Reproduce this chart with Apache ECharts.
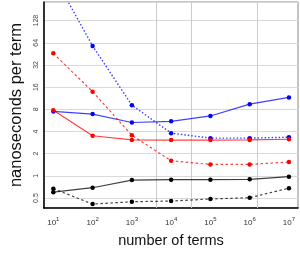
<!DOCTYPE html>
<html><head><meta charset="utf-8">
<script src="https://cdn.jsdelivr.net/npm/echarts@6/dist/echarts.min.js"></script>
<style>html,body{margin:0;padding:0;background:#fff}#c{width:300px;height:257px}</style>
</head><body><div id="c"></div>
<script>
const terms = [10, 100, 1000, 10000, 100000, 1000000, 10000000];
const blueSolid  = [7.5, 6.9, 5.3, 5.5, 6.5, 9.4, 11.6];
const blueDotted = [530, 58, 9.1, 3.8, 3.25, 3.25, 3.35];
const redSolid   = [7.8, 3.5, 3.07, 3.06, 3.06, 3.07, 3.14];
const redDashed  = [46, 13.9, 3.55, 1.6, 1.43, 1.43, 1.54];
const blackSolid = [0.6, 0.69, 0.877, 0.886, 0.886, 0.897, 0.973];
const blackDashed= [0.67, 0.414, 0.445, 0.455, 0.485, 0.505, 0.68];
const vGridLines = [4169, 32359, 1548817];

function pairs(ys){ return terms.map((t,i)=>[t, ys[i]]); }
function mk(name, ys, color, type, width){
  return {
    name, type:'line', data: pairs(ys), symbol:'circle', symbolSize:4.5,
    itemStyle:{color:color},
    lineStyle:{color:color, type:type, width:width, opacity:0.75},
    z: 3
  };
}
const series = [
  mk('blueSolid', blueSolid, '#0000ff', 'solid', 1.2),
  mk('blueDotted', blueDotted, '#0000ff', [1.5,2], 1.4),
  mk('redSolid', redSolid, '#ff0000', 'solid', 1.2),
  mk('redDashed', redDashed, '#ff0000', [2.5,2.5], 1.2),
  mk('blackSolid', blackSolid, '#000000', 'solid', 1.2),
  mk('blackDashed', blackDashed, '#000000', [2.5,2.5], 1.2)
];
series[0].markLine = {
  silent:true, symbol:'none', label:{show:false},
  lineStyle:{color:'#cccccc', type:'solid', width:1, opacity:1},
  data: vGridLines.map(v=>({xAxis:v})), z:1
};
const chart = echarts.init(document.getElementById('c'), null, {renderer:'canvas'});
chart.setOption({
  animation:false,
  backgroundColor:'#fff',
  grid:{left:36, right:2, top:2, bottom:49, show:true, borderColor:'#888', borderWidth:1, containLabel:false},
  xAxis:{
    type:'log', logBase:10, min:Math.pow(10,0.76), max:Math.pow(10,7.23),
    axisLine:{show:true, onZero:false, lineStyle:{color:'#000', width:1.5}},
    axisTick:{show:false}, splitLine:{show:false},
    axisLabel:{
      showMinLabel:false, showMaxLabel:false, margin:8,
      formatter: v => '10{s|' + Math.round(Math.log10(v)) + '}',
      color:'#333', fontSize:8, fontFamily:'Liberation Sans',
      rich:{s:{fontSize:6, verticalAlign:'bottom', padding:[0,0,7,0], color:'#333', fontFamily:'Liberation Sans'}}
    },
    name:'number of terms', nameLocation:'middle', nameGap:25,
    nameTextStyle:{fontSize:14.5, color:'#111', fontFamily:'Liberation Sans'}
  },
  yAxis:{
    type:'log', logBase:2, min:Math.pow(2,-1.45), max:Math.pow(2,7.84),
    splitNumber:9,
    axisLine:{show:true, onZero:false, lineStyle:{color:'#000', width:1.5}},
    axisTick:{show:false},
    splitLine:{show:true, lineStyle:{color:'#d9d9d9', width:1}},
    axisLabel:{
      showMinLabel:false, showMaxLabel:false, rotate:90, margin:4,
      formatter: v => String(Math.round(v*100)/100),
      color:'#444', fontSize:7, fontFamily:'Liberation Sans'
    },
    name:'nanoseconds per term', nameLocation:'middle', nameGap:18,
    nameTextStyle:{fontSize:16.5, color:'#111', fontFamily:'Liberation Sans'}
  },
  series: series
});
</script></body></html>
